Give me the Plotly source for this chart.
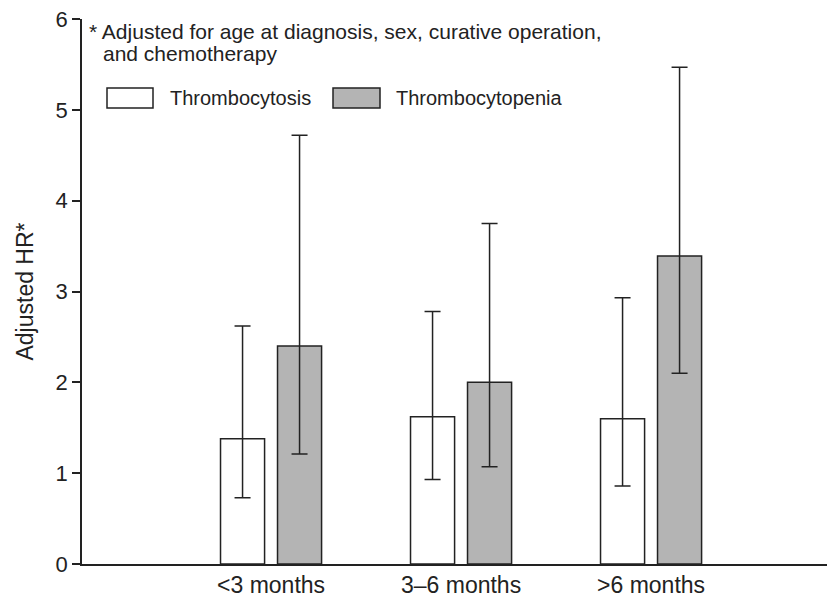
import plotly.graph_objects as go

# ---- data ----
categories = ["<3 months", "3–6 months", ">6 months"]
cytosis_hr = [1.38, 1.62, 1.60]
cytosis_lo = [0.73, 0.93, 0.86]
cytosis_hi = [2.62, 2.78, 2.93]
penia_hr = [2.40, 2.00, 3.39]
penia_lo = [1.21, 1.07, 2.10]
penia_hi = [4.72, 3.75, 5.47]
y_ticks = [0, 1, 2, 3, 4, 5, 6]
series_names = ["Thrombocytosis", "Thrombocytopenia"]

FONT = "Arial, Liberation Sans, sans-serif"
INK = "#222222"
W, H = 827, 601
ML, MR, MT, MB = 82, 0, 19, 37
PW, PH = W - ML - MR, H - MT - MB


def px_x(px):
    return (px - ML) / PW


def px_y(py):
    return (H - MB - py) / PH


def err(vals, lo, hi):
    return dict(type="data", symmetric=False,
                array=[h - v for v, h in zip(vals, hi)],
                arrayminus=[v - l for v, l in zip(vals, lo)],
                color=INK, thickness=1.5, width=8)


fig = go.Figure()
fig.add_trace(go.Bar(x=categories, y=cytosis_hr, name=series_names[0],
                     marker=dict(color="white", line=dict(color=INK, width=1.5)),
                     error_y=err(cytosis_hr, cytosis_lo, cytosis_hi), showlegend=False))
fig.add_trace(go.Bar(x=categories, y=penia_hr, name=series_names[1],
                     marker=dict(color="#b4b4b4", line=dict(color=INK, width=1.5)),
                     error_y=err(penia_hr, penia_lo, penia_hi), showlegend=False))

# custom legend (large swatches as in the reference)
shapes = []
annotations = []
legend_items = [(107, 153, "white", 168), (333, 380, "#b4b4b4", 394)]
for (x0, x1, col, tx), name in zip(legend_items, series_names):
    shapes.append(dict(type="rect", xref="paper", yref="paper",
                       x0=px_x(x0), x1=px_x(x1), y0=px_y(108), y1=px_y(88),
                       fillcolor=col, line=dict(color=INK, width=1.5)))
    annotations.append(dict(text=name, xref="paper", yref="paper",
                            x=px_x(tx), y=px_y(98), xanchor="left", yanchor="middle",
                            showarrow=False, font=dict(family=FONT, size=20, color=INK)))

annotations.append(dict(text="* Adjusted for age at diagnosis, sex, curative operation,",
                        xref="paper", yref="paper", x=px_x(87), y=px_y(31),
                        xanchor="left", yanchor="middle", showarrow=False,
                        font=dict(family=FONT, size=21, color=INK)))
annotations.append(dict(text="and chemotherapy",
                        xref="paper", yref="paper", x=px_x(101), y=px_y(53),
                        xanchor="left", yanchor="middle", showarrow=False,
                        font=dict(family=FONT, size=21, color=INK)))

fig.update_layout(
    width=W, height=H,
    margin=dict(l=ML, r=MR, t=MT, b=MB, pad=0),
    paper_bgcolor="white", plot_bgcolor="white",
    barmode="group", bargap=0.4, bargroupgap=0.227,
    font=dict(family=FONT, size=18, color=INK),
    shapes=shapes, annotations=annotations,
    xaxis=dict(type="category", range=[-0.995, 2.926], showline=True,
               linecolor=INK, linewidth=1.5, ticks="", showgrid=False,
               zeroline=False, tickfont=dict(size=23, color=INK)),
    yaxis=dict(range=[0, 6], tickvals=y_ticks, showline=True, linecolor=INK,
               linewidth=1.5, ticks="outside", ticklen=8, tickwidth=1.5,
               tickcolor=INK, showgrid=False, zeroline=False,
               tickfont=dict(size=22, color=INK),
               title=dict(text="Adjusted HR*", font=dict(size=23, color=INK),
                          standoff=16)),
)

fig.write_html("out.html", config={"displayModeBar": False},
               post_script="document.body.style.margin='0';document.body.style.overflow='hidden';")
